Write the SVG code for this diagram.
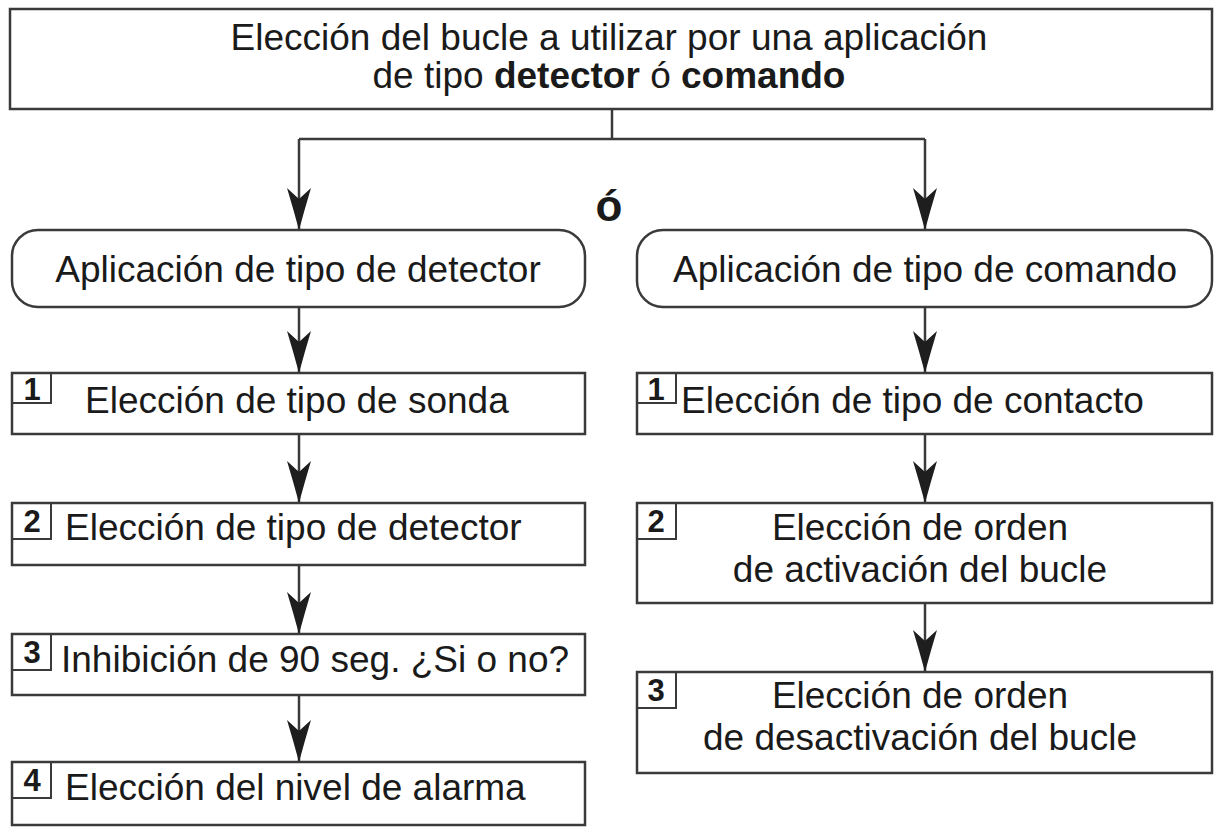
<svg xmlns="http://www.w3.org/2000/svg" width="1220" height="829" viewBox="0 0 1220 829">
<style>
.box{fill:#fff;stroke:#3a3a3a;stroke-width:2.5}
.nb{fill:none;stroke:#3a3a3a;stroke-width:2}
.t{font-family:"Liberation Sans",Arial,sans-serif;font-size:37px;fill:#1a1a1a}
.c{text-anchor:middle}
.n{font-family:"Liberation Sans",Arial,sans-serif;font-size:31px;font-weight:bold;fill:#1a1a1a;text-anchor:middle}
.b{font-weight:bold}
.or{font-family:"Liberation Sans",Arial,sans-serif;font-size:44px;font-weight:bold;fill:#1a1a1a;text-anchor:middle}
.ln{fill:none;stroke:#3a3a3a;stroke-width:2.5}
</style>
<defs>
<marker id="ah" markerUnits="userSpaceOnUse" viewBox="0 0 42 26" refX="41" refY="13" markerWidth="42" markerHeight="26" orient="auto">
<path d="M0,1 Q20,7 42,13 Q20,19 0,25 L11,13 Z" fill="#1e1e1e"/>
</marker>
</defs>
<rect width="1220" height="829" fill="#fff"/>
<g id="connectors">
<path class="ln" d="M612,109 V139"/>
<path class="ln" d="M299,139 H925"/>
<path class="ln" d="M299,139 V229" marker-end="url(#ah)"/>
<path class="ln" d="M925,139 V229" marker-end="url(#ah)"/>
<path class="ln" d="M299,307 V372" marker-end="url(#ah)"/>
<path class="ln" d="M925,307 V372" marker-end="url(#ah)"/>
<path class="ln" d="M299,434 V502" marker-end="url(#ah)"/>
<path class="ln" d="M925,434 V502" marker-end="url(#ah)"/>
<path class="ln" d="M299,565 V633" marker-end="url(#ah)"/>
<path class="ln" d="M925,603 V671" marker-end="url(#ah)"/>
<path class="ln" d="M299,695 V761" marker-end="url(#ah)"/>
</g>
<g id="top">
<rect class="box" x="10" y="9" width="1202" height="100"/>
<text class="t c" x="609" y="50">Elección del bucle a utilizar por una aplicación</text>
<text class="t c" x="609" y="88">de tipo <tspan class="b">detector</tspan> ó <tspan class="b">comando</tspan></text>
</g>
<g id="or">
<text class="or" x="609" y="221">ó</text>
</g>
<g id="detector">
<rect class="box" x="12" y="230" width="573" height="77" rx="26"/>
<text class="t c" x="298" y="282">Aplicación de tipo de detector</text>
</g>
<g id="comando">
<rect class="box" x="637" y="230" width="575" height="77" rx="26"/>
<text class="t c" x="925" y="282">Aplicación de tipo de comando</text>
</g>
<g id="d1">
<rect class="box" x="12" y="373" width="573" height="61"/>
<path class="nb" d="M12,403 H51 V373"/>
<text class="n" x="32" y="400">1</text>
<text class="t" x="85" y="413">Elección de tipo de sonda</text>
</g>
<g id="d2">
<rect class="box" x="12" y="503" width="573" height="62"/>
<path class="nb" d="M12,539 H51 V503"/>
<text class="n" x="32" y="532">2</text>
<text class="t" x="65" y="540">Elección de tipo de detector</text>
</g>
<g id="d3">
<rect class="box" x="12" y="634" width="573" height="61"/>
<path class="nb" d="M12,670 H51 V634"/>
<text class="n" x="32" y="663">3</text>
<text class="t" x="61" y="672">Inhibición de 90 seg. ¿Si o no?</text>
</g>
<g id="d4">
<rect class="box" x="12" y="762" width="573" height="63"/>
<path class="nb" d="M12,798 H51 V762"/>
<text class="n" x="32" y="791">4</text>
<text class="t" x="65" y="800">Elección del nivel de alarma</text>
</g>
<g id="c1">
<rect class="box" x="637" y="373" width="575" height="61"/>
<path class="nb" d="M637,403 H676 V373"/>
<text class="n" x="656" y="400">1</text>
<text class="t" x="681" y="413">Elección de tipo de contacto</text>
</g>
<g id="c2">
<rect class="box" x="637" y="503" width="575" height="100"/>
<path class="nb" d="M637,539 H676 V503"/>
<text class="n" x="656" y="532">2</text>
<text class="t c" x="920" y="540">Elección de orden</text>
<text class="t c" x="920" y="582">de activación del bucle</text>
</g>
<g id="c3">
<rect class="box" x="637" y="672" width="575" height="101"/>
<path class="nb" d="M637,708 H676 V672"/>
<text class="n" x="656" y="701">3</text>
<text class="t c" x="920" y="708">Elección de orden</text>
<text class="t c" x="920" y="750">de desactivación del bucle</text>
</g>
</svg>
